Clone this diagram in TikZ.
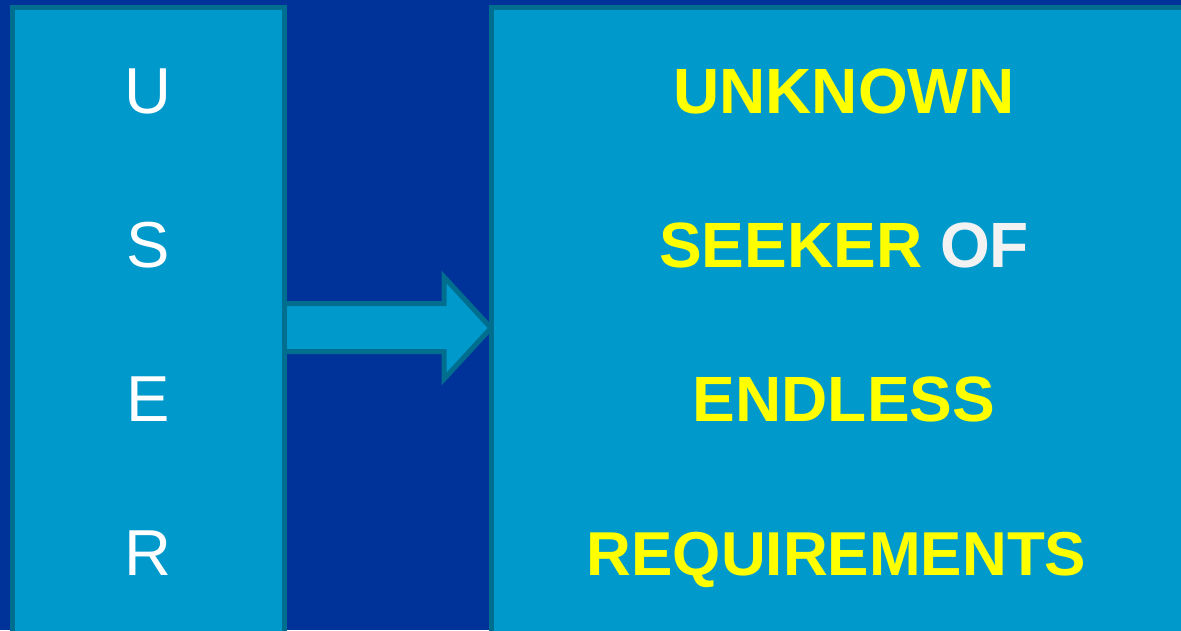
\documentclass[tikz,border=0pt]{standalone}
\usepackage{fontspec}
\setmainfont{Liberation Sans}
\definecolor{bgblue}{HTML}{003399}
\definecolor{boxfill}{HTML}{0099CC}
\definecolor{boxline}{HTML}{006F8F}
\definecolor{ofgray}{HTML}{F2F2F2}
\definecolor{txtyellow}{HTML}{FFFF00}
\tikzset{
  panel/.style={fill=boxfill,draw=boxline,line width=5pt},
  userletter/.style={anchor=base,text=white,inner sep=0pt,font=\fontsize{65}{65}\selectfont},
  bigword/.style={anchor=base,inner sep=0pt,font=\fontsize{64}{64}\selectfont\bfseries},
}
\begin{document}
\begin{tikzpicture}[x=1pt,y=-1pt]
\useasboundingbox (0,0) rectangle (1181,630);
\clip (0,0) rectangle (1181,630);
\fill[bgblue] (0,0) rectangle (1181,630);
% arrow
\draw[panel,line join=miter] (284,303.5) -- (444,303.5) -- (444,277) -- (491,328) -- (444,379) -- (444,351.5) -- (284,351.5);
% boxes
\node[panel,anchor=north west,outer sep=0pt,minimum width=272pt,minimum height=640pt,inner sep=0pt] (L) at (12,7.5) {};
\node[panel,anchor=north west,outer sep=0pt,minimum width=720pt,minimum height=640pt,inner sep=0pt] (R) at (491.5,7.5) {};
% USER letters
\node[userletter] (u) at (148,113.5) {U};
\node[userletter] (s) at (148,267) {S};
\node[userletter] (e) at (148,421) {E};
\node[userletter] (r) at (148,575) {R};
% words
\node[bigword,text=txtyellow] (w1) at (844,113.5) {UNKNOWN};
\node[bigword] (w2) at (844,267) {\textcolor{txtyellow}{SEEKER} \textcolor{ofgray}{OF}};
\node[bigword,text=txtyellow] (w3) at (844,421) {ENDLESS};
\node[bigword,text=txtyellow,font=\fontsize{62}{62}\selectfont\bfseries] (w4) at (836.5,575) {REQUIREMENTS};
\end{tikzpicture}
\end{document}
